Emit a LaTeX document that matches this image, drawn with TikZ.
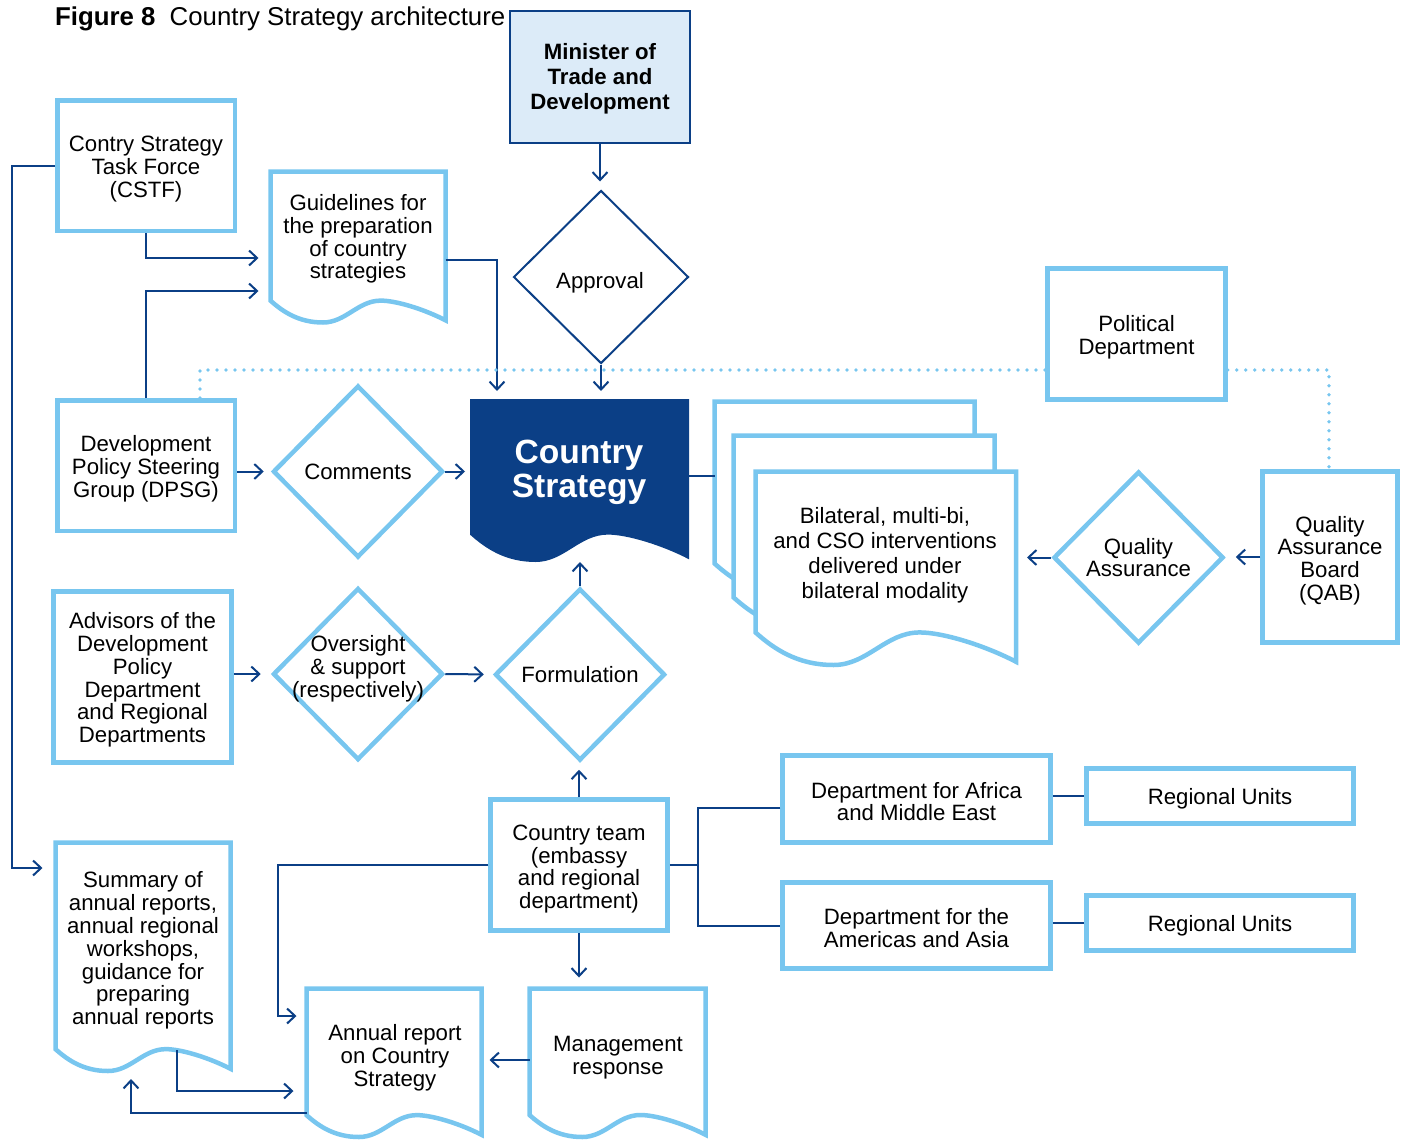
\documentclass[tikz,border=0pt]{standalone}
\usepackage{fontspec}
\setmainfont{Liberation Sans}
\usetikzlibrary{shapes.geometric,arrows.meta,calc}
\definecolor{lb}{HTML}{78C6EF}
\definecolor{db}{HTML}{0B3F86}
\definecolor{minfill}{HTML}{DCEBF8}
\newcommand\normtext{\fontsize{22.2}{22.8}\selectfont}
\newcommand\docshape[5][]{%
  \pgfmathsetmacro\docL{#2}%
  \pgfmathsetmacro\docT{#3}%
  \pgfmathsetmacro\docR{#4}%
  \pgfmathsetmacro\docB{#5}%
  \pgfmathsetmacro\docW{\docR-\docL}%
  \pgfmathsetmacro\docA{0.125*\docW}%
  \path[#1] (\docL,\docT) -- (\docR,\docT) -- (\docR,\docB-0.1*\docA)
    .. controls (\docR-0.12*\docW,\docB-0.6*\docA) and (\docL+0.72*\docW,\docB-\docA) .. (\docL+0.63*\docW,\docB-\docA)
    .. controls (\docL+0.5*\docW,\docB-\docA) and (\docL+0.43*\docW,\docB) .. (\docL+0.3*\docW,\docB)
    .. controls (\docL+0.16*\docW,\docB) and (\docL+0.07*\docW,\docB-0.5*\docA) .. (\docL,\docB-\docA) -- cycle;
}
\tikzset{
  box/.style={draw=lb, line width=4.5pt, fill=white, rectangle, inner sep=0},
  dia/.style={draw=lb, line width=4.5pt, shape=diamond, inner sep=0, minimum width=170, minimum height=172},
  txt/.style={align=center, font=\normtext, inner sep=0},
  conn/.style={draw=db, line width=2pt},
  arr/.style={conn, -{Straight Barb[length=8pt,width=15pt]}},
  dots/.style={draw=lb, line width=3.6pt, line cap=round, dash pattern=on 0pt off 9pt},
  docbox/.style={rectangle, draw=none, inner sep=0, outer sep=0},
  docline/.style={draw=lb, line width=4.5pt, fill=white},
}
\begin{document}
\begin{tikzpicture}[x=1pt,y=-1pt]
\useasboundingbox (0,0) rectangle (1405,1140);

% title
\node[anchor=base west, inner sep=0, font=\fontsize{25.8}{28}\selectfont] (title) at (55,26) {\textbf{Figure 8}\hspace{0.55em}Country Strategy architecture};

% documents
\docshape[docline]{270.5}{171.5}{445.5}{322.5}
\node[docbox, minimum width=175, minimum height=151] (guide) at (358,247) {};
\node[txt] (guideT) at (358,239) {Guidelines for\\the preparation\\of country\\strategies};

\docshape[fill=db]{470}{399}{689}{562}
\node[docbox, minimum width=219, minimum height=163] (cs) at (579.5,480.5) {};
\node[txt, text=white, font=\bfseries\fontsize{33.6}{34}\selectfont] (csT) at (579,472) {Country\\Strategy};

\docshape[docline]{714.5}{401.5}{974.5}{596}
\node[docbox, minimum width=260, minimum height=194.5] (back) at (844.5,498.75) {};
\docshape[docline]{733.5}{435.5}{994.5}{630}
\node[docbox, minimum width=261, minimum height=194.5] (mid) at (864,532.75) {};
\docshape[docline]{755.5}{471.5}{1016}{665}
\node[docbox, minimum width=260.5, minimum height=193.5] (front) at (885.75,568.25) {};
\node[txt, font=\fontsize{22.2}{25}\selectfont] (frontT) at (885,555) {Bilateral, multi-bi,\\and CSO interventions\\delivered under\\bilateral modality};

\docshape[docline]{55.5}{842.5}{230.5}{1071}
\node[docbox, minimum width=175, minimum height=228.5] (summ) at (143,956.75) {};
\node[txt] (summT) at (143,950.5) {Summary of\\annual reports,\\annual regional\\workshops,\\guidance for\\preparing\\annual reports};

\docshape[docline]{306.5}{988.5}{481.5}{1137}
\node[docbox, minimum width=175, minimum height=148.5] (ar) at (394,1062.75) {};
\node[txt] (arT) at (395,1057.5) {Annual report\\on Country\\Strategy};

\docshape[docline]{529.5}{988.5}{705.5}{1137}
\node[docbox, minimum width=176, minimum height=148.5] (mr) at (617.5,1062.75) {};
\node[txt] (mrT) at (618,1057.5) {Management\\response};

% boxes
\node[draw=db, line width=2pt, fill=minfill, inner sep=0, minimum width=180, minimum height=132] (min) at (600,77) {};
\node[txt, font=\bfseries\fontsize{22.2}{25}\selectfont] (minT) at (600,79) {Minister of\\Trade and\\Development};
\node[box, minimum width=177.5, minimum height=130.5] (cstf) at (146,165.5) {};
\node[txt] (cstfT) at (146,169) {Contry Strategy\\Task Force\\(CSTF)};
\node[box, minimum width=177.5, minimum height=130.5] (dpsg) at (146,465.5) {};
\node[txt] (dpsgT) at (146,468.5) {Development\\Policy Steering\\Group (DPSG)};
\node[box, minimum width=178, minimum height=171] (adv) at (142.5,677) {};
\node[txt] (advT) at (142.5,680) {Advisors of the\\Development\\Policy\\Department\\and Regional\\Departments};
\node[box, minimum width=178, minimum height=131] (pol) at (1136.5,334) {};
\node[txt] (polT) at (1136.5,337) {Political\\Department};
\node[box, minimum width=135, minimum height=171] (qab) at (1330,557) {};
\node[txt] (qabT) at (1330,560.5) {Quality\\Assurance\\Board\\(QAB)};
\node[box, minimum width=177, minimum height=131] (ct) at (579,865) {};
\node[txt] (ctT) at (579,869) {Country team\\(embassy\\and regional\\department)};
\node[box, minimum width=268, minimum height=87] (afr) at (916.5,799) {};
\node[txt] (afrT) at (916.5,801.5) {Department for Africa\\and Middle East};
\node[box, minimum width=268, minimum height=86] (ame) at (916.5,925.5) {};
\node[txt] (ameT) at (916.5,928) {Department for the\\Americas and Asia};
\node[box, minimum width=267, minimum height=55] (ru1) at (1220,796) {};
\node[txt] (ru1T) at (1220,799) {Regional Units};
\node[box, minimum width=267, minimum height=55] (ru2) at (1220,923) {};
\node[txt] (ru2T) at (1220,926) {Regional Units};

% diamonds
\node[dia, draw=db, line width=2pt, minimum width=175, minimum height=173] (appr) at (601,277) {};
\node[txt] (apprT) at (600,283) {Approval};
\node[dia] (comm) at (358,471.5) {};
\node[txt] (commT) at (358,472) {Comments};
\node[dia] (ovs) at (358,674) {};
\node[txt] (ovsT) at (358,669) {Oversight\\\& support\\(respectively)};
\node[dia] (form) at (580,674.5) {};
\node[txt] (formT) at (580,675) {Formulation};
\node[dia] (qa) at (1138.5,557.5) {};
\node[txt] (qaT) at (1138.5,557.5) {Quality\\Assurance};

% connectors
\draw[arr, shorten >=8pt] (min.south) -- (min.south |- appr.north);
\draw[arr, shorten >=8pt] (appr.south) -- (appr.south |- cs.north);
\draw[arr, shorten >=12pt] (cstf.south) |- (guide.west |- 0,258);
\draw[arr, shorten >=12pt] (dpsg.north) |- (guide.west |- 0,291);
\draw[arr, shorten >=8pt] (guide.east |- 0,260) -| (cs.north -| 497,0);
\draw[dots] (dpsg.north -| 200,0) |- (pol.west |- 0,370);
\draw[dots] (pol.east |- 0,370) -| (qab.north -| 1329,0);
\draw[arr, shorten >=7pt] (dpsg.east |- comm.west) -- (comm.west);
\draw[arr, shorten >=5pt] (comm.east) -- (comm.east -| cs.west);
\draw[conn] (cs.east |- 0,476) -- (back.west |- 0,476);
\draw[arr, shorten >=11pt] (qa.west) -- (qa.west -| front.east);
\draw[arr, shorten >=10pt] (qab.west) -- (qab.west -| qa.east);
\draw[arr, shorten >=10pt] (adv.east |- ovs.west) -- (ovs.west);
\draw[arr, shorten >=9pt] (ovs.east) -- (form.west);
\draw[arr] (form.north) -- (form.north |- cs.south);
\draw[arr, shorten >=7pt] (ct.north) -- (ct.north |- form.south);
\draw[conn] (ct.east) -- ++(28,0) coordinate (br);
\draw[conn] (afr.west |- 0,808) -| (br) |- (ame.west);
\draw[conn] (afr.east |- ru1.west) -- (ru1.west);
\draw[conn] (ame.east |- ru2.west) -- (ru2.west);
\draw[arr, shorten >=13pt] (cstf.west) -- ++(-43,0) |- (summ.west |- 0,868);
\draw[arr, shorten >=10pt] (ct.west) -- ++(-210,0) |- (ar.west |- 0,1016);
\draw[arr, shorten >=11pt] (ct.south) -- (ct.south |- mr.north);
\draw[arr, shorten >=8pt] (mr.west |- 0,1060) -- (ar.east |- 0,1060);
\coordinate (summpk) at (177,1050);
\coordinate (summlow) at (131,1079);
\draw[arr, shorten >=13pt] (summpk) |- (ar.west |- 0,1091);
\draw[arr] (ar.west |- 0,1113) -| (summlow);
\end{tikzpicture}
\end{document}
